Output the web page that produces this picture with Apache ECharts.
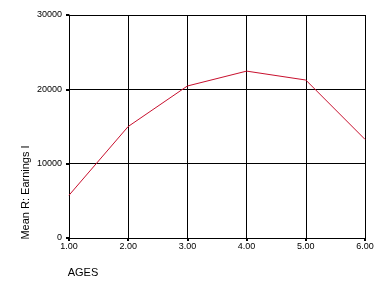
<!DOCTYPE html>
<html>
<head>
<meta charset="utf-8">
<script src="https://cdn.jsdelivr.net/npm/echarts@6/dist/echarts.min.js"></script>
<style>html,body{margin:0;padding:0;background:#fff;}#c{width:380px;height:284px;}</style>
</head>
<body>
<div id="c"></div>
<script>
var categories = ['1.00', '2.00', '3.00', '4.00', '5.00', '6.00'];
var earnings = [5750, 15000, 20450, 22450, 21250, 13270];
var yTicks = { min: 0, max: 30000, interval: 10000 };

var chart = echarts.init(document.getElementById('c'), null, { renderer: 'canvas' });
var font = 'Arial, "Liberation Sans", sans-serif';
chart.setOption({
  animation: false,
  backgroundColor: '#ffffff',
  grid: { left: 69, right: 15, top: 15, bottom: 46, containLabel: false },
  xAxis: {
    type: 'category',
    data: categories,
    boundaryGap: false,
    name: 'AGES',
    nameLocation: 'middle',
    nameGap: 29,
    nameTextStyle: { color: '#000', fontSize: 11, fontFamily: font, padding: [0, 268, 0, 0] },
    axisLine: { lineStyle: { color: '#000', width: 1 } },
    axisTick: { show: true, length: 3, lineStyle: { color: '#000', width: 2 } },
    axisLabel: { color: '#000', fontSize: 9, fontFamily: font, margin: 4, interval: 0 },
    splitLine: { show: true, lineStyle: { color: '#000', width: 1 } }
  },
  yAxis: {
    type: 'value',
    min: yTicks.min,
    max: yTicks.max,
    interval: yTicks.interval,
    name: 'Mean R: Earnings I',
    nameLocation: 'middle',
    nameGap: 38,
    nameMoveOverlap: false,
    nameRotate: 90,
    nameTextStyle: { color: '#000', fontSize: 11, fontFamily: font, padding: [0, 132, 0, 0] },
    axisLine: { show: true, lineStyle: { color: '#000', width: 1 } },
    axisTick: { show: true, length: 3, lineStyle: { color: '#000', width: 2 } },
    axisLabel: { color: '#000', fontSize: 9, fontFamily: font, margin: 7, formatter: function (v) { return String(v); } },
    splitLine: { show: true, lineStyle: { color: '#000', width: 1 } }
  },
  series: [{
    type: 'line',
    data: earnings,
    symbol: 'none',
    lineStyle: { color: '#c8102e', width: 1 },
    itemStyle: { color: '#c8102e' }
  }]
});
</script>
</body>
</html>
